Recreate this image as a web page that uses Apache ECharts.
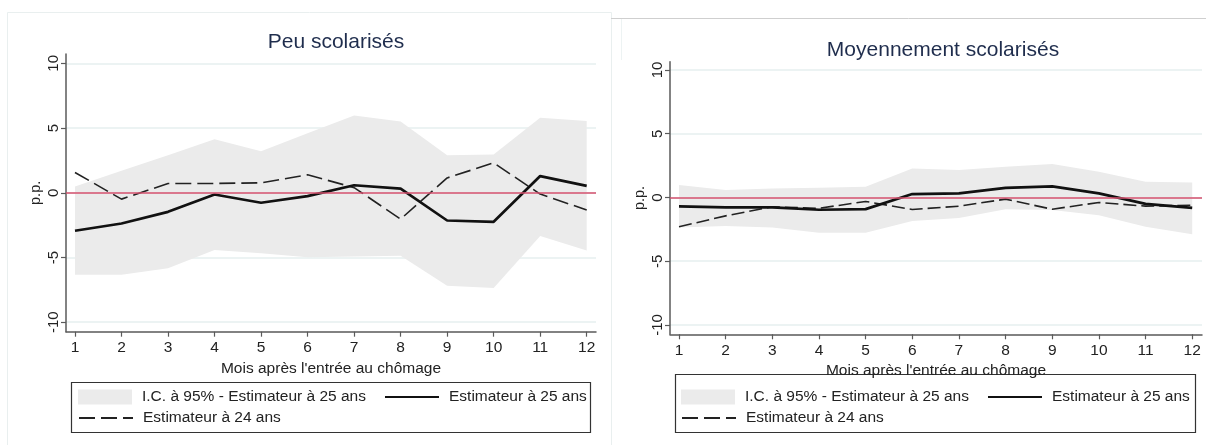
<!DOCTYPE html>
<html>
<head>
<meta charset="utf-8">
<script src="https://cdn.jsdelivr.net/npm/echarts@6/dist/echarts.min.js"></script>
<style>
  html, body { margin: 0; padding: 0; background: #fff; }
  #chart { width: 1206px; height: 445px; }
</style>
</head>
<body>
<div id="chart"></div>
<script>
// Months after entering unemployment
const months = [1, 2, 3, 4, 5, 6, 7, 8, 9, 10, 11, 12];
const yTicks = [-10, -5, 0, 5, 10];

// Peu scolarisés
const peuEst25 = [-2.93, -2.37, -1.47, -0.13, -0.77, -0.26, 0.58, 0.32, -2.14, -2.24, 1.29, 0.53];
const peuEst24 = [1.57, -0.49, 0.72, 0.72, 0.77, 1.39, 0.4, -2.03, 1.15, 2.31, -0.1, -1.33];
const peuCiLow = [-6.33, -6.33, -5.82, -4.41, -4.67, -4.97, -4.92, -4.87, -7.18, -7.36, -3.33, -4.46];
const peuCiHigh = [0.48, 1.7, 2.9, 4.13, 3.2, 4.6, 5.97, 5.51, 2.9, 2.95, 5.8, 5.54];

// Moyennement scolarisés
const moyEst25 = [-0.7, -0.78, -0.78, -0.96, -0.91, 0.27, 0.32, 0.75, 0.87, 0.32, -0.5, -0.81];
const moyEst24 = [-2.3, -1.44, -0.73, -0.85, -0.31, -0.94, -0.68, -0.13, -0.92, -0.39, -0.68, -0.6];
const moyCiLow = [-2.36, -2.23, -2.36, -2.77, -2.77, -1.85, -1.6, -0.92, -0.99, -1.39, -2.3, -2.88];
const moyCiHigh = [0.97, 0.58, 0.71, 0.76, 0.84, 2.28, 2.15, 2.41, 2.62, 2.02, 1.23, 1.18];

const titles = ['Peu scolarisés', 'Moyennement scolarisés'];
const xTitle = "Mois après l'entrée au chômage";
const yTitle = 'p.p.';
const nameCi = 'I.C. à 95% - Estimateur à 25 ans';
const name25 = 'Estimateur à 25 ans';
const name24 = 'Estimateur à 24 ans';

const FONT = '"Liberation Sans", Arial, sans-serif';
const AXIS_COLOR = '#5a5a5a';
const BAND_COLOR = '#ebebeb';
const GRID_COLOR = '#e6efef';
const ZERO_COLOR = '#d4506e';

const pairs = (vals) => vals.map((v, i) => [months[i], v]);

const panels = [
  { est25: peuEst25, est24: peuEst24, low: peuCiLow, high: peuCiHigh,
    grid: { left: 66, right: 610, top: 54, bottom: 113.3 },
    x: { min: 0.807, max: 12.2 }, y: { min: -10.73, max: 10.72 },
    titleX: 331, titleTop: 27, xNameGap: 25, dash: [16, 6],
    legendLeft: 78, box: [71, 382, 519, 50] },
  { est25: moyEst25, est24: moyEst24, low: moyCiLow, high: moyCiHigh,
    grid: { left: 670, right: 4, top: 61.7, bottom: 110.7 },
    x: { min: 0.807, max: 12.21 }, y: { min: -10.73, max: 10.65 },
    titleX: 938, titleTop: 35, xNameGap: 24, dash: [13, 5],
    legendLeft: 681, box: [675, 374, 520, 58] }
];

const option = {
  animation: false,
  backgroundColor: '#fff',
  textStyle: { fontFamily: FONT },
  title: [], grid: [], xAxis: [], yAxis: [], series: [], legend: [],
  graphic: [
    // panel frames
    { type: 'rect', shape: { x: 7.5, y: 12.5, width: 604, height: 440 },
      style: { fill: null, stroke: '#e9efef', lineWidth: 1 }, silent: true },
    { type: 'line', shape: { x1: 611, y1: 18.5, x2: 1206, y2: 18.5 },
      style: { stroke: '#cfcfcf', lineWidth: 1 }, silent: true },
    { type: 'line', shape: { x1: 621.5, y1: 19, x2: 621.5, y2: 60 },
      style: { stroke: '#edf3f3', lineWidth: 1 }, silent: true }
  ]
};

panels.forEach((p, k) => {
  option.title.push({
    text: titles[k], left: p.titleX, top: p.titleTop, textAlign: 'center',
    textStyle: { fontFamily: FONT, fontSize: 21, fontWeight: 'normal', color: '#1f2d4d' }
  });
  option.grid.push(Object.assign({ containLabel: false, outerBoundsMode: 'none' }, p.grid));
  option.xAxis.push({
    type: 'value', gridIndex: k, min: p.x.min, max: p.x.max,
    name: xTitle, nameLocation: 'middle', nameGap: p.xNameGap,
    nameTextStyle: { fontFamily: FONT, fontSize: 15.5, color: '#222', verticalAlign: 'top' },
    axisLine: { show: true, onZero: false, lineStyle: { color: AXIS_COLOR, width: 1.5 } },
    axisTick: { show: true, length: 5, customValues: months, lineStyle: { color: AXIS_COLOR, width: 1.2 } },
    axisLabel: { customValues: months, margin: 8, fontFamily: FONT, fontSize: 15.5, color: '#222' },
    splitLine: { show: false }
  });
  option.yAxis.push({
    type: 'value', gridIndex: k, min: p.y.min, max: p.y.max,
    name: yTitle, nameLocation: 'middle', nameGap: 23, nameRotate: 90,
    nameTextStyle: { fontFamily: FONT, fontSize: 14.5, color: '#222' },
    axisLine: { show: true, onZero: false, lineStyle: { color: AXIS_COLOR, width: 1.5 } },
    axisTick: { show: true, length: 5, customValues: yTicks, lineStyle: { color: AXIS_COLOR, width: 1.2 } },
    axisLabel: { customValues: yTicks, rotate: 90, margin: 5, fontFamily: FONT, fontSize: 15, color: '#222' },
    splitLine: { show: true, lineStyle: { color: GRID_COLOR, width: 1.5 } }
  });

  // confidence band: polygon through the upper bounds and back along the lower bounds
  option.series.push({
    name: nameCi, type: 'custom', xAxisIndex: k, yAxisIndex: k,
    data: months.map((m, i) => [m, p.low[i], p.high[i]]),
    encode: { x: 0, y: [1, 2] },
    itemStyle: { color: BAND_COLOR },
    silent: true, z: 1,
    renderItem: (params, api) => {
      if (params.dataIndex !== 0) return null;
      const upper = months.map((m, i) => api.coord([m, p.high[i]]));
      const lower = months.map((m, i) => api.coord([m, p.low[i]])).reverse();
      return {
        type: 'polygon',
        shape: { points: upper.concat(lower) },
        style: { fill: BAND_COLOR, stroke: null }
      };
    }
  });
  // zero reference line
  option.series.push({
    type: 'line', xAxisIndex: k, yAxisIndex: k, data: [], silent: true, z: 2,
    markLine: {
      silent: true, symbol: 'none', label: { show: false },
      lineStyle: { color: ZERO_COLOR, width: 1.6, type: 'solid' },
      data: [{ yAxis: 0 }]
    }
  });
  option.series.push({
    name: name24, type: 'line', xAxisIndex: k, yAxisIndex: k, data: pairs(p.est24),
    symbol: 'none', color: '#222', lineStyle: { color: '#222', width: 1.6, type: p.dash }, z: 3
  });
  option.series.push({
    name: name25, type: 'line', xAxisIndex: k, yAxisIndex: k, data: pairs(p.est25),
    symbol: 'none', color: '#111', lineStyle: { color: '#111', width: 2.7 }, z: 4
  });

  const legendBase = {
    orient: 'horizontal', padding: 0, itemWidth: 54, itemHeight: 15, itemGap: 18,
    selectedMode: false,
    textStyle: { fontFamily: FONT, fontSize: 15.5, color: '#222', padding: [0, 0, 0, 5] }
  };
  const hideSymbol = { opacity: 0, borderWidth: 0 };
  option.legend.push(Object.assign({}, legendBase, {
    left: p.legendLeft, top: 389,
    data: [{ name: nameCi, icon: 'rect', itemStyle: { color: BAND_COLOR } },
           { name: name25, itemStyle: hideSymbol }]
  }));
  option.legend.push(Object.assign({}, legendBase, {
    left: p.legendLeft, top: 410,
    data: [{ name: name24, itemStyle: hideSymbol }]
  }));
  option.graphic.push({
    type: 'rect', shape: { x: p.box[0] + 0.5, y: p.box[1] + 0.5, width: p.box[2], height: p.box[3] },
    style: { fill: null, stroke: '#333', lineWidth: 1.2 }, silent: true
  });
});

const chart = echarts.init(document.getElementById('chart'), null, { renderer: 'canvas' });
chart.setOption(option);
</script>
</body>
</html>
